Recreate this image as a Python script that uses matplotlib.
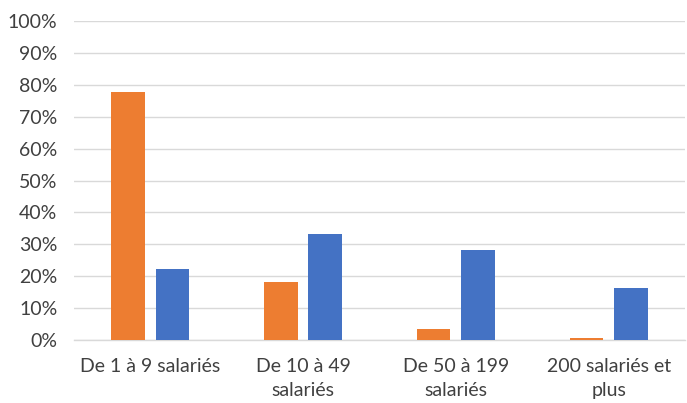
import matplotlib
matplotlib.use("Agg")
import matplotlib.pyplot as plt
import numpy as np
from matplotlib.ticker import PercentFormatter

categories = ["De 1 à 9 salariés", "De 10 à 49\nsalariés", "De 50 à 199\nsalariés", "200 salariés et\nplus"]
orange_values = [77.7, 18.1, 3.4, 0.6]
blue_values = [22.2, 33.3, 28.4, 16.3]
y_ticks = list(range(0, 101, 10))

plt.rcParams['font.family'] = ['Lato', 'DejaVu Sans']

fig = plt.figure(figsize=(6.87, 4.03), dpi=100)
ax = fig.add_axes([0.1077, 0.1556, 0.8893, 0.793])

x = np.arange(len(categories))
w = 0.22
off = 0.145
ax.bar(x - off, orange_values, width=w, color="#ED7D31", zorder=3)
ax.bar(x + off, blue_values, width=w, color="#4472C4", zorder=3)

ax.set_xlim(-0.5, len(categories) - 0.5)
ax.set_ylim(0, 100)
ax.set_yticks(y_ticks)
ax.yaxis.set_major_formatter(PercentFormatter(decimals=0))
ax.grid(axis="y", color="#D9D9D9", linewidth=1.0, zorder=0)
ax.set_axisbelow(True)

for s in ["top", "right", "left"]:
    ax.spines[s].set_visible(False)
ax.spines["bottom"].set_color("#D9D9D9")
ax.spines["bottom"].set_linewidth(1.0)

ax.set_xticks(x)
ax.set_xticklabels(categories, linespacing=1.45)
ax.tick_params(axis="both", length=0, labelsize=14, labelcolor="#404040")
ax.tick_params(axis="y", pad=12)
ax.tick_params(axis="x", pad=13)
for lab in ax.get_xticklabels():
    lab.set_verticalalignment("top")

fig.savefig("out.png", dpi=100)
